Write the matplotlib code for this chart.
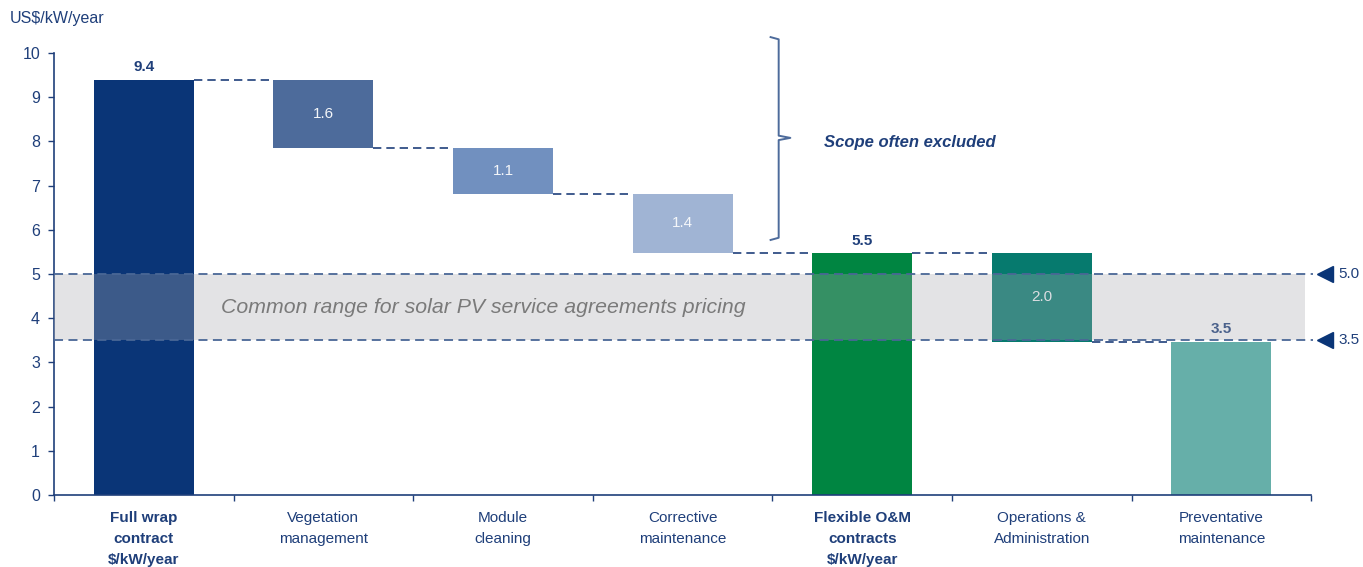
import matplotlib
matplotlib.use("Agg")
import matplotlib.pyplot as plt
from matplotlib.patches import Rectangle

plt.rcParams['font.family'] = ['Liberation Sans', 'DejaVu Sans']

# 数据
categories = ["Full wrap\ncontract\n$/kW/year", "Vegetation\nmanagement", "Module\ncleaning",
              "Corrective\nmaintenance", "Flexible O&M\ncontracts\n$/kW/year",
              "Operations &\nAdministration", "Preventative\nmaintenance"]
bar_bottoms = [0, 7.85, 6.82, 5.47, 0, 3.47, 0]
bar_tops = [9.4, 9.4, 7.85, 6.82, 5.47, 5.47, 3.47]
value_labels = ["9.4", "1.6", "1.1", "1.4", "5.5", "2.0", "3.5"]
is_total = [True, False, False, False, True, False, True]
range_low = 3.5
range_high = 5.0
range_labels = ["3.5", "5.0"]

colors = ["#0a3577", "#4d6b9b", "#7190bf", "#a0b4d4", "#008541", "#067a6e", "#66afa9"]
navy = "#1f3f7a"

fig = plt.figure(figsize=(13.63, 5.67), dpi=100)
ax = fig.add_axes([0.0396, 0.127, 0.9224, 0.7795])

x = list(range(len(categories)))
width = 0.557
heights = [t - b for t, b in zip(bar_tops, bar_bottoms)]
ax.bar(x, heights, bottom=bar_bottoms, width=width, color=colors, zorder=2)

# 数值标签
for i in x:
    if is_total[i]:
        ax.text(i, bar_tops[i] + 0.12, value_labels[i], ha='center', va='bottom',
                fontsize=11, fontweight='bold', color=navy, zorder=2.5)
    else:
        ax.text(i, (bar_tops[i] + bar_bottoms[i]) / 2, value_labels[i], ha='center',
                va='center', fontsize=11, color="#f4f6f9", zorder=2.5)

# 连接虚线
dash_kw = dict(color=navy, lw=1.2, linestyle=(0, (5, 3)), zorder=1.5)
for i in range(len(x) - 1):
    level = bar_bottoms[i] if bar_bottoms[i] > 0 else bar_tops[i]
    ax.plot([i + width / 2, i + 1 - width / 2], [level, level], **dash_kw)

# 常见区间带
band = Rectangle((-0.5, range_low), 6.966, range_high - range_low, facecolor="#a8aab0",
                 alpha=0.32, edgecolor='none', zorder=3)
ax.add_patch(band)
ax.text(1.89, (range_low + range_high) / 2, "Common range for solar PV service agreements pricing",
        ha='center', va='center', fontsize=15.3, style='italic', color="#7a7a7a", zorder=4)

for lvl, lab in zip([range_low, range_high], range_labels):
    ax.plot([-0.5, 6.51], [lvl, lvl], color="#4a6796", lw=1.3, linestyle=(0, (5, 3)),
            zorder=4, clip_on=False)
    ax.plot(6.575, lvl, marker='<', markersize=11, color="#0a3577", clip_on=False, zorder=5)
    ax.text(6.65, lvl, lab, ha='left', va='center', fontsize=11, color=navy)

# 大括号
bx, by0, by1, bym = 3.535, 5.77, 10.36, 8.08
ax.plot([bx - 0.045, bx, bx, bx + 0.065, bx, bx, bx - 0.045],
        [by1, by1 - 0.05, bym + 0.05, bym, bym - 0.05, by0 + 0.05, by0],
        color="#4d6b9b", lw=1.4, clip_on=False, solid_joinstyle='round')
ax.text(3.79, 7.98, "Scope often excluded", ha='left', va='center', fontsize=12,
        fontweight='bold', style='italic', color=navy)

# 坐标轴
ax.set_xlim(-0.5, 6.5)
ax.set_ylim(0, 10)
ax.set_yticks(range(0, 11))
ax.tick_params(axis='y', colors=navy, labelsize=11.5, length=4, width=1, pad=6)
ax.set_xticks([i - 0.5 for i in range(len(x) + 1)])
ax.set_xticklabels([])
ax.tick_params(axis='x', length=4, width=1, color=navy)
for i, lab in enumerate(categories):
    ax.text(i, -0.36, lab, ha='center', va='top', fontsize=11, color=navy,
            fontweight='bold' if i in (0, 4) else 'normal', linespacing=1.62)
for s in ['top', 'right']:
    ax.spines[s].set_visible(False)
for s in ['left', 'bottom']:
    ax.spines[s].set_color(navy)
    ax.spines[s].set_linewidth(1.2)

fig.text(10 / 1363, 1 - 18 / 567, "US$/kW/year", ha='left', va='center', fontsize=11.5, color=navy)

fig.savefig("out.png", dpi=100)
